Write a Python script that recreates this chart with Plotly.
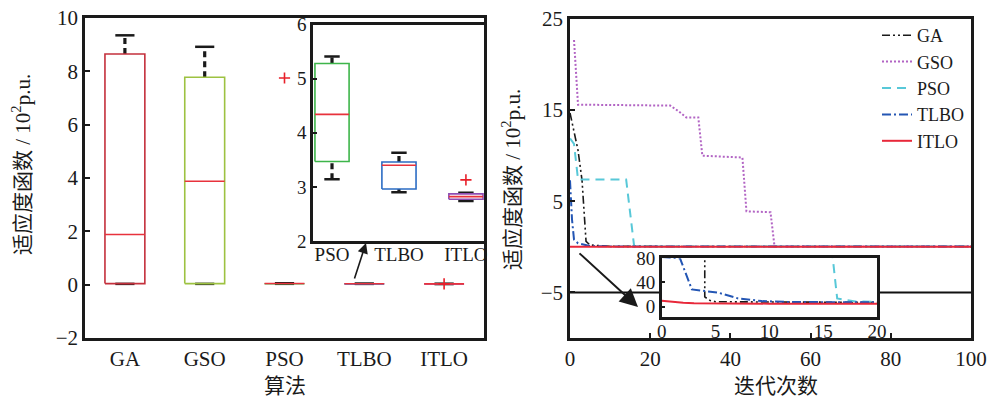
import plotly.graph_objects as go

# ---------------- data ----------------
# Left: box-plot statistics (units: 10^2 p.u.)
algos = ["GA", "GSO", "PSO", "TLBO", "ITLO"]
box_lower = [0.03, 0.03, 0.0315, 0.0290, 0.0274]
box_q1 = [0.04, 0.04, 0.0347, 0.0297, 0.0278]
box_median = [1.88, 3.88, 0.0434, 0.0341, 0.0282]
box_q3 = [8.65, 7.78, 0.0528, 0.0347, 0.0287]
box_upper = [9.35, 8.92, 0.0542, 0.0362, 0.0289]
outlier_algo = ["PSO", "ITLO"]
outlier_val = [7.75, 0.0314]
box_colors = ["#c4303c", "#9dc241", "#3db54a", "#2b6cc4", "#8e4db3"]

# Left inset (zoomed PSO / TLBO / ITLO)
inset_algos = ["PSO", "TLBO", "ITLO"]
inset_lower = [3.14, 2.90, 2.74]
inset_q1 = [3.47, 2.96, 2.77]
inset_median = [4.34, 3.40, 2.82]
inset_q3 = [5.28, 3.46, 2.87]
inset_upper = [5.41, 3.63, 2.89]
inset_out_algo = ["ITLO"]
inset_out_val = [3.13]
inset_colors = ["#3db54a", "#2b6cc4", "#8e4db3"]

# Right: convergence curves (iteration, fitness in 10^2 p.u.)
ga_it = [0, 1, 2, 3, 4, 5, 10, 100]
ga_val = [14.7, 12.5, 10.6, 7.3, 0.6, 0.2, 0.05, 0.03]
gso_it = [1, 2, 25, 27, 29, 32, 33, 43, 44, 50, 51, 100]
gso_val = [22.7, 15.6, 15.5, 14.9, 14.2, 14.2, 10.0, 9.8, 3.9, 3.8, 0.05, 0.03]
pso_it = [0, 1, 2, 14, 16, 20, 100]
pso_val = [11.9, 11.3, 7.4, 7.4, 0.05, 0.04, 0.03]
tlbo_it = [0, 0.5, 1, 2, 5, 10, 100]
tlbo_val = [7.3, 3.0, 0.8, 0.4, 0.1, 0.05, 0.03]
itlo_it = [0, 100]
itlo_val = [0.0, 0.0]
ref_level = -5

# Right inset (first 20 iterations, zoomed)
z_ga_it = [4, 4, 4.5, 5, 10, 20]
z_ga_val = [95, 16, 10, 8, 7.5, 7.0]
z_pso_it = [15.8, 16.3, 17.2, 18, 20]
z_pso_val = [95, 13.5, 10.7, 8.3, 8.0]
z_tlbo_it = [0, 1.7, 2.8, 4, 5.3, 7.1, 9.3, 12, 20]
z_tlbo_val = [82, 80, 28.4, 26, 22.8, 13.5, 9.1, 7.5, 7.0]
z_itlo_it = [0, 1, 2, 3, 5, 10, 20]
z_itlo_val = [9.6, 7.5, 6.2, 5.3, 5.0, 4.8, 4.6]

# ---------------- figure ----------------
W, H = 988, 399
SERIF = "Liberation Serif, Noto Sans CJK SC"
fig = go.Figure()


def add_boxes(fig, xs, lo, q1, med, q3, up, colors, xa, ya, bw, cw):
    wx, wy, cx, cy = [], [], [], []
    for i, x in enumerate(xs):
        wx += [x, x, None, x, x, None]
        wy += [q3[i], up[i], None, lo[i], q1[i], None]
        cx += [x - cw / 2, x + cw / 2, None, x - cw / 2, x + cw / 2, None]
        cy += [up[i], up[i], None, lo[i], lo[i], None]
    fig.add_trace(go.Scatter(x=wx, y=wy, mode="lines", xaxis=xa, yaxis=ya,
                             line=dict(color="#1a1a1a", width=3.2, dash="6px,4px"),
                             showlegend=False, hoverinfo="skip"))
    fig.add_trace(go.Scatter(x=cx, y=cy, mode="lines", xaxis=xa, yaxis=ya,
                             line=dict(color="#1a1a1a", width=2.5),
                             showlegend=False, hoverinfo="skip"))
    for i, x in enumerate(xs):
        fig.add_trace(go.Scatter(
            x=[x - bw / 2, x + bw / 2, x + bw / 2, x - bw / 2, x - bw / 2],
            y=[q1[i], q1[i], q3[i], q3[i], q1[i]], mode="lines", xaxis=xa, yaxis=ya,
            line=dict(color=colors[i], width=1.6), showlegend=False, hoverinfo="skip"))
        fig.add_trace(go.Scatter(
            x=[x - bw / 2, x + bw / 2], y=[med[i], med[i]], mode="lines",
            xaxis=xa, yaxis=ya, line=dict(color="#e8323c", width=1.6),
            showlegend=False, hoverinfo="skip"))


main_pos = list(range(1, len(algos) + 1))
add_boxes(fig, main_pos, box_lower, box_q1, box_median, box_q3, box_upper,
          box_colors, "x", "y", 0.5, 0.24)
fig.add_trace(go.Scatter(
    x=[main_pos[algos.index(a)] for a in outlier_algo], y=outlier_val,
    mode="markers", xaxis="x", yaxis="y",
    marker=dict(symbol="cross-thin", size=8, line=dict(color="#e8202a", width=1.6)),
    showlegend=False, hoverinfo="skip"))

inset_pos = list(range(1, len(inset_algos) + 1))
add_boxes(fig, inset_pos, inset_lower, inset_q1, inset_median, inset_q3, inset_upper,
          inset_colors, "x3", "y3", 0.51, 0.23)
fig.add_trace(go.Scatter(
    x=[inset_pos[inset_algos.index(a)] for a in inset_out_algo], y=inset_out_val,
    mode="markers", xaxis="x3", yaxis="y3",
    marker=dict(symbol="cross-thin", size=8, line=dict(color="#e8202a", width=1.6)),
    showlegend=False, hoverinfo="skip"))

# right panel
fig.add_trace(go.Scatter(x=[0, 100], y=[ref_level, ref_level], mode="lines",
                         xaxis="x2", yaxis="y2", line=dict(color="#111111", width=2),
                         showlegend=False, hoverinfo="skip"))
styles = {
    "GA": dict(color="#1a1a1a", width=1.6, dash="8px,3px,2px,3px,2px,3px"),
    "GSO": dict(color="#b264c4", width=2, dash="2px,2px"),
    "PSO": dict(color="#58c8d8", width=2, dash="9px,6px"),
    "TLBO": dict(color="#2456b4", width=2, dash="9px,3px,2px,3px"),
    "ITLO": dict(color="#e8283a", width=2),
}
series = [("GA", ga_it, ga_val, z_ga_it, z_ga_val),
          ("GSO", gso_it, gso_val, None, None),
          ("PSO", pso_it, pso_val, z_pso_it, z_pso_val),
          ("TLBO", tlbo_it, tlbo_val, z_tlbo_it, z_tlbo_val),
          ("ITLO", itlo_it, itlo_val, z_itlo_it, z_itlo_val)]
for name, xi, yi, zx, zy in series:
    fig.add_trace(go.Scatter(x=xi, y=yi, mode="lines", name=name, xaxis="x2", yaxis="y2",
                             line=styles[name]))
for name, xi, yi, zx, zy in series:
    if zx is not None:
        fig.add_trace(go.Scatter(x=zx, y=zy, mode="lines", name=name, xaxis="x4", yaxis="y4",
                                 line=styles[name], showlegend=False))

ax_common = dict(showline=True, linecolor="#1a1a1a", linewidth=2.5, mirror=True,
                 showgrid=False, zeroline=False, ticks="inside", ticklen=5, tickwidth=2,
                 tickcolor="#1a1a1a", automargin=False,
                 tickfont=dict(family=SERIF, size=21, color="#1a1a1a"))
ax_inset = dict(ax_common, tickfont=dict(family=SERIF, size=19, color="#1a1a1a"), ticklen=4)


def px_x(p):
    return p / W


def px_y(p):
    return 1 - p / H


fig.update_layout(
    width=W, height=H, margin=dict(l=0, r=0, t=0, b=0, pad=0), autosize=False,
    paper_bgcolor="white", plot_bgcolor="white",
    font=dict(family=SERIF, color="#1a1a1a"),
    xaxis=dict(ax_common, domain=[px_x(85), px_x(484)], range=[0.5, 5.5],
               tickvals=main_pos, ticktext=algos, ticks="", anchor="y"),
    yaxis=dict(ax_common, domain=[px_y(338), px_y(18)], range=[-2, 10], dtick=2, anchor="x"),
    xaxis2=dict(ax_common, domain=[px_x(570), px_x(971)], range=[0, 100], dtick=20, anchor="y2"),
    yaxis2=dict(ax_common, domain=[px_y(338), px_y(19)], range=[-10, 25],
                tickvals=[-5, 5, 15, 25], anchor="x2"),
    xaxis3=dict(ax_inset, domain=[px_x(313), px_x(484)], range=[0.716, 3.27],
                tickvals=inset_pos, ticktext=inset_algos, ticks="", anchor="y3",
                ticklabelstandoff=-6),
    yaxis3=dict(ax_inset, domain=[px_y(241), px_y(24.5)], range=[2, 6], dtick=1, anchor="x3"),
    xaxis4=dict(ax_inset, domain=[px_x(661.7), px_x(877)], range=[0, 20], dtick=5, anchor="y4",
                ticks="", ticklabelstandoff=-4),
    yaxis4=dict(ax_inset, domain=[px_y(316.5), px_y(258.3)], range=[-16.5, 80],
                tickvals=[0, 40, 80], anchor="x4"),
    legend=dict(x=px_x(969), y=px_y(17), xanchor="right", yanchor="top",
                bgcolor="rgba(0,0,0,0)", font=dict(family=SERIF, size=18, color="#1a1a1a"),
                itemwidth=30, tracegroupgap=0),
    showlegend=True,
)

cjk = dict(family=SERIF, size=21, color="#1a1a1a")
ytitle = "适应度函数 / 10<sup>2</sup>p.u."
fig.add_annotation(text=ytitle, x=px_x(22), y=px_y(165), xanchor="center", yanchor="middle",
                   xref="paper", yref="paper", textangle=-90, showarrow=False, font=cjk)
fig.add_annotation(text=ytitle, x=px_x(511), y=px_y(179), xanchor="center", yanchor="middle",
                   xref="paper", yref="paper", textangle=-90, showarrow=False, font=cjk)
fig.add_annotation(text="算法", x=px_x(285), y=px_y(386), xanchor="center", yanchor="middle",
                   xref="paper", yref="paper", showarrow=False, font=cjk)
fig.add_annotation(text="迭代次数", x=px_x(776), y=px_y(386), xanchor="center",
                   yanchor="middle", xref="paper", yref="paper", showarrow=False, font=cjk)
# zoom arrows
fig.add_annotation(x=px_x(366), y=px_y(243), xref="paper", yref="paper", text="",
                   showarrow=True, ax=-12, ay=37, arrowhead=2, arrowsize=1.3,
                   arrowwidth=1.6, arrowcolor="#1a1a1a")
fig.add_annotation(x=px_x(638), y=px_y(307), xref="paper", yref="paper", text="",
                   showarrow=True, ax=-60, ay=-55, arrowhead=2, arrowsize=1.8,
                   arrowwidth=2, arrowcolor="#1a1a1a")

fig.write_html("out.html", config={"displayModeBar": False},
               post_script="document.body.style.margin='0';document.body.style.overflow='hidden';")
